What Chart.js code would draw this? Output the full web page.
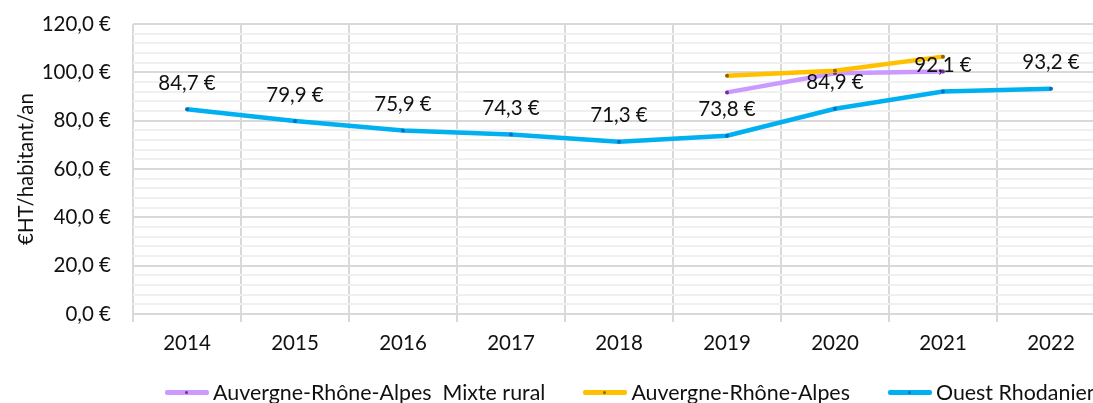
<!DOCTYPE html>
<html lang="fr">
<head>
<meta charset="utf-8">
<script src="https://cdn.jsdelivr.net/npm/chart.js@4/dist/chart.umd.min.js"></script>
<style>
  html, body { margin: 0; padding: 0; background: #fff; overflow: hidden; }
  #wrap { position: relative; width: 1110px; height: 403px; }
  #legend {
    position: absolute; left: 165px; top: 380px; height: 24px;
    display: flex; align-items: center; gap: 38px;
    font: 21.4px Lato, 'Open Sans', sans-serif; line-height: 24px; color: #111;
    white-space: pre;
  }
  .legend-item { display: flex; align-items: center; height: 24px; }
  .legend-line { position: relative; display: block; flex: none; width: 44px; height: 5px; border-radius: 2px; margin-right: 4px; }
  .legend-line::after {
    content: ''; position: absolute; left: 20px; top: 1px; width: 3px; height: 3px;
    border-radius: 50%; background: var(--mk);
  }
</style>
</head>
<body>
<div id="wrap">
  <canvas id="chartCout"></canvas>
  <div id="legend"></div>
</div>
<script>
// ── DATA ────────────────────────────────────────────
const years = ['2014', '2015', '2016', '2017', '2018', '2019', '2020', '2021', '2022'];
const mixteRural = [null, null, null, null, null, 91.7, 99.6, 100.3, null];
const auvergneRA = [null, null, null, null, null, 98.6, 100.7, 106.5, null];
const ouestRhodanien = [84.7, 79.9, 75.9, 74.3, 71.3, 73.8, 84.9, 92.1, 93.2];
const seriesNames = ['Auvergne-Rhône-Alpes  Mixte rural', 'Auvergne-Rhône-Alpes', 'Ouest Rhodanien'];
const yMin = 0, yMax = 120, yMajor = 20, yMinor = 4;

const colors  = ['#CC99FF', '#FFC000', '#00B0F0'];
const markers = ['#7030A0', '#8C6400', '#0070C0'];

const fontFamily = "Lato, 'Open Sans', sans-serif";
const fontSize = 20.5;
const fmtEuro = v => v.toFixed(1).replace('.', ',') + ' €';

// value labels above the blue series
const valueLabels = {
  id: 'valueLabels',
  afterDatasetsDraw(chart) {
    const meta = chart.getDatasetMeta(2);
    const ctx = chart.ctx;
    ctx.save();
    ctx.font = `${fontSize}px ${fontFamily}`;
    ctx.fillStyle = '#111';
    ctx.textAlign = 'center';
    ctx.textBaseline = 'middle';
    meta.data.forEach((pt, i) => {
      const v = ouestRhodanien[i];
      if (v == null) return;
      ctx.fillText(fmtEuro(v), pt.x, pt.y - 26);
    });
    ctx.restore();
  }
};

function lineSet(i, data, order) {
  return {
    label: seriesNames[i], data, order,
    borderColor: colors[i],
    backgroundColor: colors[i],
    borderWidth: 4.5,
    pointRadius: 2,
    pointBorderWidth: 0,
    pointBackgroundColor: markers[i],
    pointHoverRadius: 3,
    tension: 0,
    spanGaps: false
  };
}

// scales keep no extra edge padding, so the plot box is set by layout.padding alone
function noEdgePadding(scale) {
  scale.paddingTop = 0;
  scale.paddingBottom = 0;
  scale.paddingLeft = 0;
  scale.paddingRight = 0;
}

new Chart(document.getElementById('chartCout'), {
  type: 'line',
  data: {
    labels: years,
    datasets: [
      lineSet(0, mixteRural, 2),
      lineSet(1, auvergneRA, 1),
      lineSet(2, ouestRhodanien, 0)
    ]
  },
  options: {
    responsive: true,
    maintainAspectRatio: false,
    animation: false,
    layout: { padding: { top: 24, right: 5, left: 0, bottom: 50.5 } },
    plugins: {
      tooltip: { enabled: false },
      legend: { display: false }
    },
    scales: {
      x: {
        offset: true,
        afterFit: scale => { scale.height = 38.5; noEdgePadding(scale); },
        grid: { offset: true, color: '#D9D9D9', lineWidth: 2, tickLength: 8 },
        border: { display: false },
        ticks: { color: '#111', font: { family: fontFamily, size: fontSize }, padding: 9, maxRotation: 0 }
      },
      y: {
        min: yMin,
        max: yMax,
        afterFit: scale => { scale.width = 133; noEdgePadding(scale); },
        border: { display: false },
        grid: {
          drawTicks: false,
          lineWidth: 2,
          color: c => (c.tick.value % yMajor === 0 ? '#D9D9D9' : '#F0F0F0')
        },
        ticks: {
          stepSize: yMinor,
          autoSkip: false,
          maxTicksLimit: 100,
          padding: 22,
          color: '#111',
          font: { family: fontFamily, size: fontSize },
          callback: v => (v % yMajor === 0 ? fmtEuro(v) : '')
        },
        title: {
          display: true,
          text: '€HT/habitant/an',
          color: '#111',
          font: { family: fontFamily, size: fontSize },
          padding: { top: 14, bottom: 0 }
        }
      }
    }
  },
  plugins: [valueLabels]
});

// ── LEGEND ───────────────────────────────────────────
document.getElementById('legend').innerHTML = seriesNames.map((name, i) =>
  `<div class="legend-item"><span class="legend-line" style="background:${colors[i]};--mk:${markers[i]}"></span>${name}</div>`
).join('');
</script>
</body>
</html>
